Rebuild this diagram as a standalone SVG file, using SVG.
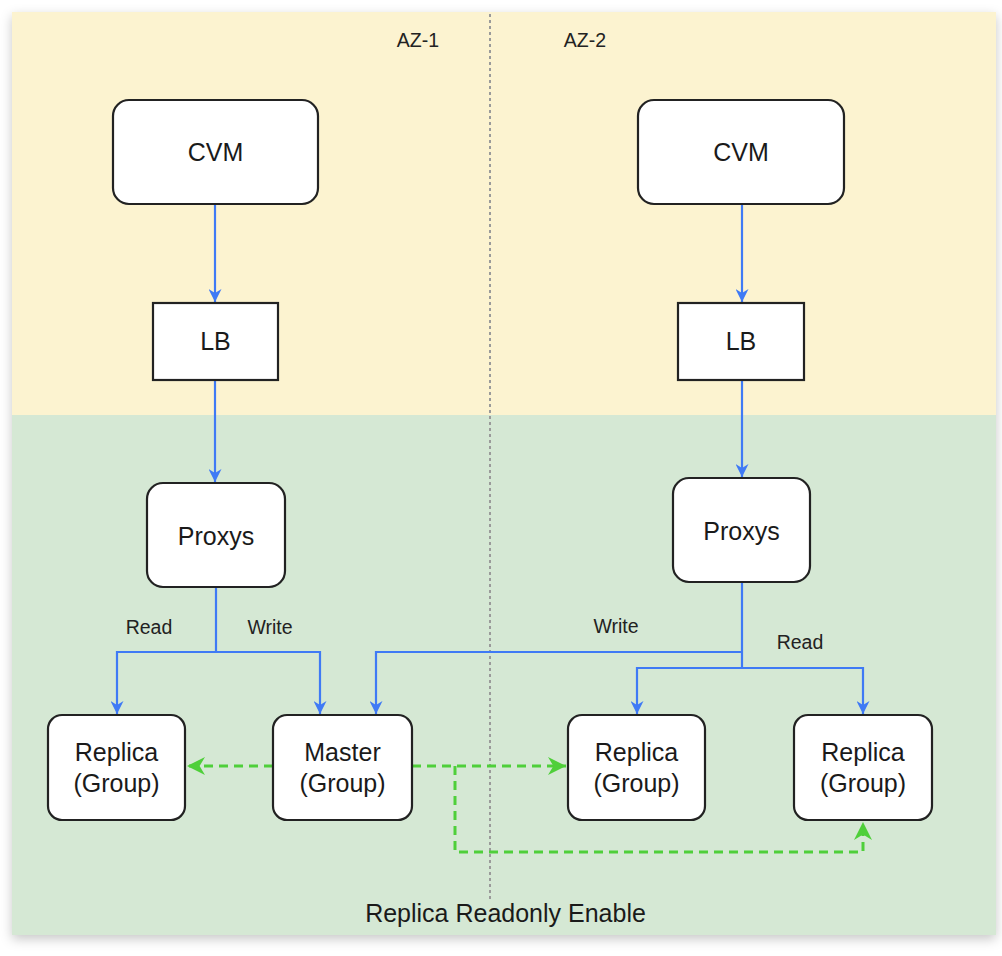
<svg xmlns="http://www.w3.org/2000/svg" width="1002" height="956" viewBox="0 0 1002 956">
<style>
.node{fill:#ffffff;stroke:#222222;stroke-width:2.2}
.t{font-family:"Liberation Sans",Arial,sans-serif;font-size:25px;fill:#1a1a1a;text-anchor:middle}
.lbl{font-family:"Liberation Sans",Arial,sans-serif;font-size:19.5px;fill:#222222;text-anchor:middle}
.blue{fill:none;stroke:#3f7af5;stroke-width:2.2}
.green{fill:none;stroke:#4fcf3a;stroke-width:3;stroke-dasharray:9 6}
</style>
<defs>
<filter id="sh" x="-5%" y="-5%" width="110%" height="110%">
<feDropShadow dx="0" dy="4" stdDeviation="6" flood-color="#000" flood-opacity="0.22"/>
</filter>
<marker id="ab" viewBox="0 0 10 10" refX="10" refY="5" markerWidth="13" markerHeight="13" markerUnits="userSpaceOnUse" orient="auto">
<path d="M0,0 L10,5 L0,10 L3,5 z" fill="#3f7af5"/>
</marker>
<marker id="ag" viewBox="0 0 10 10" refX="10" refY="5" markerWidth="18" markerHeight="18" markerUnits="userSpaceOnUse" orient="auto">
<path d="M0,0 L10,5 L0,10 L3,5 z" fill="#4fcf3a"/>
</marker>
</defs>
<rect x="0" y="0" width="1002" height="956" fill="#ffffff"/>
<g id="background" filter="url(#sh)">
<rect x="12" y="12" width="984" height="404" fill="#fcf3d0"/>
<rect x="12" y="415" width="984" height="520" fill="#d5e8d4"/>
</g>
<line x1="490" y1="14" x2="490" y2="900" stroke="#9a9a9a" stroke-width="2" stroke-dasharray="3 3"/>
<text class="lbl" x="418" y="47">AZ-1</text>
<text class="lbl" x="585" y="47">AZ-2</text>
<g id="connectors">
<path class="blue" d="M215,204 L215,302" marker-end="url(#ab)"/>
<path class="blue" d="M742,204 L742,302" marker-end="url(#ab)"/>
<path class="blue" d="M215,380 L215,482" marker-end="url(#ab)"/>
<path class="blue" d="M742,380 L742,477" marker-end="url(#ab)"/>
<path class="blue" d="M216,587 L216,652 L117,652 L117,714" marker-end="url(#ab)"/>
<path class="blue" d="M216,652 L320,652 L320,714" marker-end="url(#ab)"/>
<path class="blue" d="M742,582 L742,668 L637,668 L637,714" marker-end="url(#ab)"/>
<path class="blue" d="M742,668 L863,668 L863,714" marker-end="url(#ab)"/>
<path class="blue" d="M742,652 L376,652 L376,714" marker-end="url(#ab)"/>
<path class="green" d="M273,766 L187,766" marker-end="url(#ag)"/>
<path class="green" d="M412,766 L566,766" marker-end="url(#ag)"/>
<path class="green" d="M455,766 L455,852 L863,852 L863,822" marker-end="url(#ag)"/>
<text class="lbl" x="149" y="634">Read</text>
<text class="lbl" x="270" y="634">Write</text>
<text class="lbl" x="616" y="633">Write</text>
<text class="lbl" x="800" y="649">Read</text>
</g>
<g id="cvm1"><rect class="node" x="113" y="100" width="205" height="104" rx="16"/><text class="t" x="215.5" y="161">CVM</text></g>
<g id="cvm2"><rect class="node" x="638" y="100" width="206" height="104" rx="16"/><text class="t" x="741" y="161">CVM</text></g>
<g id="lb1"><rect class="node" x="153" y="303" width="125" height="77"/><text class="t" x="215.5" y="350">LB</text></g>
<g id="lb2"><rect class="node" x="678" y="303" width="126" height="77"/><text class="t" x="741" y="350">LB</text></g>
<g id="proxys1"><rect class="node" x="147" y="483" width="138" height="104" rx="16"/><text class="t" x="216" y="545">Proxys</text></g>
<g id="proxys2"><rect class="node" x="673" y="478" width="137" height="104" rx="16"/><text class="t" x="741.5" y="540">Proxys</text></g>
<g id="replica1"><rect class="node" x="48" y="715" width="137" height="105" rx="14"/><text class="t" x="116.5" y="761">Replica</text><text class="t" x="116.5" y="792">(Group)</text></g>
<g id="master"><rect class="node" x="273" y="715" width="139" height="105" rx="14"/><text class="t" x="342.5" y="761">Master</text><text class="t" x="342.5" y="792">(Group)</text></g>
<g id="replica2"><rect class="node" x="568" y="715" width="137" height="105" rx="14"/><text class="t" x="636.5" y="761">Replica</text><text class="t" x="636.5" y="792">(Group)</text></g>
<g id="replica3"><rect class="node" x="794" y="715" width="138" height="105" rx="14"/><text class="t" x="863" y="761">Replica</text><text class="t" x="863" y="792">(Group)</text></g>
<text class="t" x="505.5" y="922">Replica Readonly Enable</text>
</svg>
